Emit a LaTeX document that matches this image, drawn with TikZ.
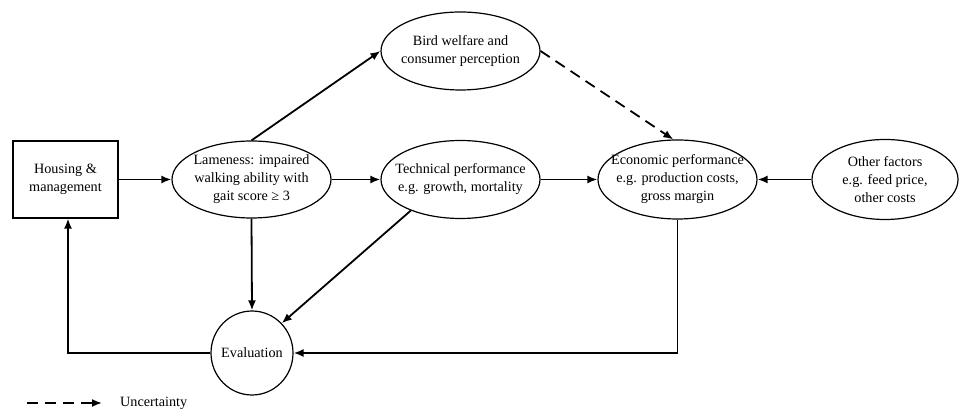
\documentclass[tikz,border=0pt]{standalone}
\usepackage{fontspec}
\setmainfont{Liberation Serif}
\usetikzlibrary{shapes.geometric,arrows.meta}
\begin{document}
\begin{tikzpicture}[x=1pt,y=1pt,
  every node/.style={font=\fontsize{14.2}{18}\selectfont, align=center, inner sep=0pt},
  every label/.style={font=\fontsize{14.2}{18}\selectfont, align=center, inner sep=0pt},
  ell/.style={draw, ellipse, line width=1.2pt},
  boxnode/.style={draw, rectangle, line width=1.1pt},
  arr/.style={line width=1.8pt, -{Latex[length=10pt,width=8pt]}},
  darr/.style={arr, dash pattern=on 11pt off 7pt}]
\useasboundingbox (0,0) rectangle (960,414);
\node[boxnode, minimum width=105pt, minimum height=77pt] (housing) at (65.5,234.5) {Housing \&\\management};
\node[ell, minimum width=159pt, minimum height=77pt, label={center:Lameness: impaired\\walking ability with\\gait score ≥ 3}] (lame) at (251.5,234.5) {};
\node[ell, minimum width=159pt, minimum height=78pt, label={center:Bird welfare and\\consumer perception}] (bird) at (460.5,363) {};
\node[ell, minimum width=159pt, minimum height=78pt, label={center:Technical performance\\e.g. growth, mortality}] (tech) at (460.5,234.5) {};
\node[ell, minimum width=159pt, minimum height=79pt, label={center:Economic performance\\e.g. production costs,\\gross margin}] (econ) at (677.5,234.5) {};
\node[ell, minimum width=146pt, minimum height=80pt, label={center:Other factors\\e.g. feed price,\\other costs}] (other) at (885,234.5) {};
\node[ell, minimum width=82pt, minimum height=84pt, label={center:Evaluation}] (eval) at (252,61) {};
\draw[arr] (housing) -- (lame);
\draw[arr] (lame) -- (tech);
\draw[arr] (tech) -- (econ);
\draw[arr] (other) -- (econ);
\draw[arr] (lame.north) -- (bird.west);
\draw[darr] (bird.east) -- (econ.96);
\draw[arr] (lame.south) -- (eval.north);
\draw[arr] (tech.212) -- (eval.45);
\draw[arr] (econ.south) |- (eval.east);
\draw[arr] (eval.west) -| ([xshift=2.5pt]housing.south);
\coordinate (l1) at (27,11);
\coordinate (l2) at (102,11);
\draw[darr] (l1) -- (l2);
\node[anchor=west] (unc) at (120,11) {Uncertainty};
\end{tikzpicture}
\end{document}
